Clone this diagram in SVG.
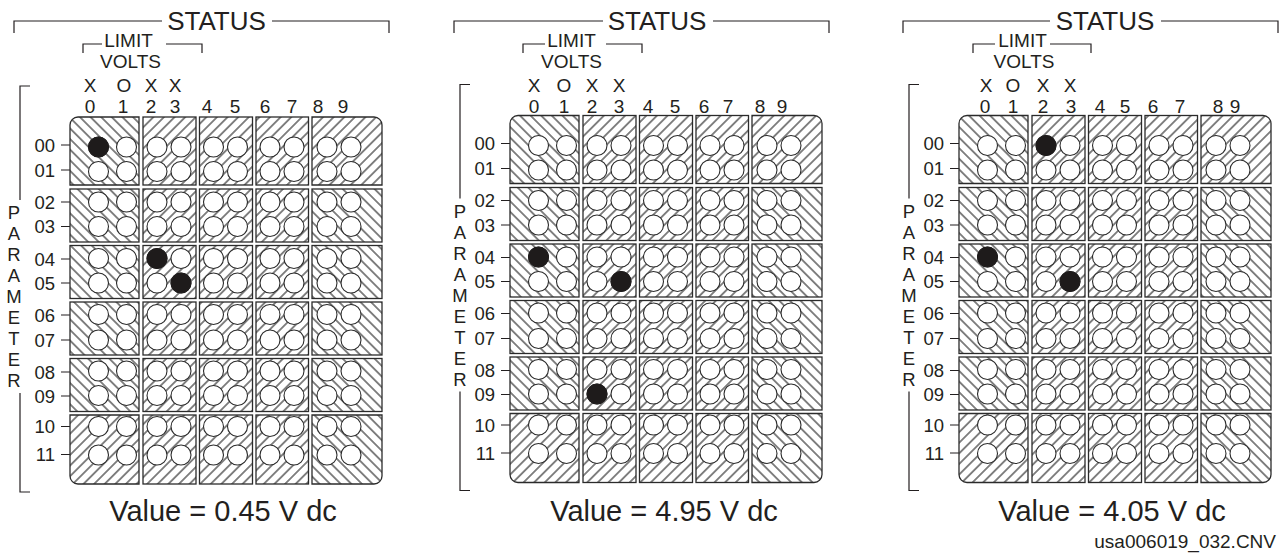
<svg xmlns="http://www.w3.org/2000/svg" xmlns:xlink="http://www.w3.org/1999/xlink" width="1280" height="554" viewBox="0 0 1280 554">
<style>
.t{font-family:"Liberation Sans",Arial,sans-serif;fill:#231f20}
.s18{font-size:18.5px}
.s19{font-size:19px}
.mid{text-anchor:middle}
.end{text-anchor:end}
.ln{fill:none;stroke:#231f20;stroke-width:1.2}
.cell{stroke:#2b2b2b;stroke-width:1.3}
.f{fill:url(#hf)}
.b{fill:url(#hb)}
.c{fill:#fff;stroke:#2b2b2b;stroke-width:1.1}
.on{fill:#1e1b1b;stroke:#1e1b1b;stroke-width:1}
</style>
<defs>
<pattern id="hf" patternUnits="userSpaceOnUse" width="7.5" height="7.5" patternTransform="rotate(45)"><line x1="3.75" y1="-1" x2="3.75" y2="8.5" stroke="#222" stroke-width="1.1"/></pattern>
<pattern id="hb" patternUnits="userSpaceOnUse" width="7.5" height="7.5" patternTransform="rotate(-45)"><line x1="3.75" y1="-1" x2="3.75" y2="8.5" stroke="#222" stroke-width="1.1"/></pattern>
<g id="grid">
<path class="cell b" d="M70,185V125A8,8 0 0 1 78,117H139V185Z"/>
<rect class="cell f" x="143" y="117" width="53" height="68"/>
<rect class="cell f" x="199.5" y="117" width="53" height="68"/>
<rect class="cell f" x="256" y="117" width="52.5" height="68"/>
<path class="cell f" d="M312,117H374A8,8 0 0 1 382,125V185H312Z"/>
<rect class="cell b" x="70" y="189" width="69" height="53"/>
<rect class="cell f" x="143" y="189" width="53" height="53"/>
<rect class="cell f" x="199.5" y="189" width="53" height="53"/>
<rect class="cell f" x="256" y="189" width="52.5" height="53"/>
<rect class="cell b" x="312" y="189" width="70" height="53"/>
<rect class="cell b" x="70" y="245.5" width="69" height="53"/>
<rect class="cell f" x="143" y="245.5" width="53" height="53"/>
<rect class="cell f" x="199.5" y="245.5" width="53" height="53"/>
<rect class="cell f" x="256" y="245.5" width="52.5" height="53"/>
<rect class="cell b" x="312" y="245.5" width="70" height="53"/>
<rect class="cell b" x="70" y="302" width="69" height="53"/>
<rect class="cell f" x="143" y="302" width="53" height="53"/>
<rect class="cell f" x="199.5" y="302" width="53" height="53"/>
<rect class="cell f" x="256" y="302" width="52.5" height="53"/>
<rect class="cell b" x="312" y="302" width="70" height="53"/>
<rect class="cell b" x="70" y="358.5" width="69" height="53"/>
<rect class="cell f" x="143" y="358.5" width="53" height="53"/>
<rect class="cell f" x="199.5" y="358.5" width="53" height="53"/>
<rect class="cell f" x="256" y="358.5" width="52.5" height="53"/>
<rect class="cell b" x="312" y="358.5" width="70" height="53"/>
<path class="cell f" d="M70,415H139V484H78A8,8 0 0 1 70,476Z"/>
<rect class="cell f" x="143" y="415" width="53" height="69"/>
<rect class="cell f" x="199.5" y="415" width="53" height="69"/>
<rect class="cell f" x="256" y="415" width="52.5" height="69"/>
<path class="cell b" d="M312,415H382V476A8,8 0 0 1 374,484H312Z"/>
<g id="circles">
<g id="crow">
<circle class="c" cx="98.5" cy="147" r="10"/><circle class="c" cx="126.5" cy="147" r="10"/><circle class="c" cx="157" cy="147" r="10"/><circle class="c" cx="181" cy="147" r="10"/><circle class="c" cx="213.5" cy="147" r="10"/><circle class="c" cx="237.5" cy="147" r="10"/><circle class="c" cx="270" cy="147" r="10"/><circle class="c" cx="294" cy="147" r="10"/><circle class="c" cx="327" cy="147" r="10"/><circle class="c" cx="351" cy="147" r="10"/>
</g>
<use href="#crow" y="24.5"/>
<use href="#crow" y="55"/>
<use href="#crow" y="79.5"/>
<use href="#crow" y="111.5"/>
<use href="#crow" y="136"/>
<use href="#crow" y="167.5"/>
<use href="#crow" y="193"/>
<use href="#crow" y="224"/>
<use href="#crow" y="248.5"/>
<use href="#crow" y="279.5"/>
<use href="#crow" y="308"/>
</g>
</g>
</defs>

<g id="panel-1">
<g id="p1-status">
<path class="ln" d="M14,33V21H162M272,21H389V33"/>
<text class="t mid" x="216.5" y="29.5" font-size="26">STATUS</text>
<path class="ln" d="M83,53V44H102M166,44H202V53"/>
<text class="t mid s19" x="128.5" y="47">LIMIT</text>
<text class="t mid s19" x="130.5" y="68">VOLTS</text>
<text class="t mid s19" y="92"><tspan x="90">X</tspan><tspan x="124">O</tspan><tspan x="151">X</tspan><tspan x="175">X</tspan></text>
<text class="t mid s19" y="113"><tspan x="90">0</tspan><tspan x="123">1</tspan><tspan x="151">2</tspan><tspan x="175">3</tspan><tspan x="207">4</tspan><tspan x="235">5</tspan><tspan x="265">6</tspan><tspan x="292">7</tspan><tspan x="318">8</tspan><tspan x="343">9</tspan></text>
</g>
<g id="p1-parameter">
<path class="ln" d="M30,86H20V200M20,393V492H30"/>
<text class="t mid s18"><tspan x="14" y="219">P</tspan><tspan x="14" y="240">A</tspan><tspan x="14" y="261">R</tspan><tspan x="14" y="282">A</tspan><tspan x="14" y="303">M</tspan><tspan x="14" y="324">E</tspan><tspan x="14" y="345">T</tspan><tspan x="14" y="366">E</tspan><tspan x="14" y="387">R</tspan></text>
</g>
<g id="p1-rows">
<path class="ln" d="M61,145H70M61,170H70M61,202H70M61,226.5H70M61,259H70M61,283H70M61,315H70M61,340H70M61,372H70M61,396H70M61,426.5H70M61,454.5H70"/>
<text class="t end s18"><tspan x="55" y="151.5">00</tspan><tspan x="55" y="176.5">01</tspan><tspan x="55" y="208.5">02</tspan><tspan x="55" y="233">03</tspan><tspan x="55" y="265.5">04</tspan><tspan x="55" y="289.5">05</tspan><tspan x="55" y="321.5">06</tspan><tspan x="55" y="346.5">07</tspan><tspan x="55" y="378.5">08</tspan><tspan x="55" y="402.5">09</tspan><tspan x="55" y="433">10</tspan><tspan x="55" y="461">11</tspan></text>
</g>
<g id="p1-grid">
<use href="#grid"/>
<circle class="on" cx="98.5" cy="147" r="10"/>
<circle class="on" cx="157" cy="258.5" r="10"/>
<circle class="on" cx="181" cy="283" r="10"/>
</g>
<text id="p1-value" class="t mid" x="223" y="521" font-size="29">Value = 0.45 V dc</text>
</g>

<g id="panel-2" transform="translate(440,0)">
<g id="p2-status">
<path class="ln" d="M14,33V21H163M273,21H389V33"/>
<text class="t mid" x="217" y="29.5" font-size="26">STATUS</text>
<path class="ln" d="M83,53V44H105M166,44H202V53"/>
<text class="t mid s19" x="131.5" y="47">LIMIT</text>
<text class="t mid s19" x="131.5" y="68">VOLTS</text>
<text class="t mid s19" y="92"><tspan x="94">X</tspan><tspan x="124">O</tspan><tspan x="152">X</tspan><tspan x="179">X</tspan></text>
<text class="t mid s19" y="113"><tspan x="94">0</tspan><tspan x="124">1</tspan><tspan x="152">2</tspan><tspan x="179">3</tspan><tspan x="208">4</tspan><tspan x="235">5</tspan><tspan x="264">6</tspan><tspan x="288">7</tspan><tspan x="320">8</tspan><tspan x="342">9</tspan></text>
</g>
<g transform="translate(0,-1.5)">
<g id="p2-parameter">
<path class="ln" d="M30,86H20V200M20,393V492H30"/>
<text class="t mid s18"><tspan x="20" y="219">P</tspan><tspan x="20" y="240">A</tspan><tspan x="20" y="261">R</tspan><tspan x="20" y="282">A</tspan><tspan x="20" y="303">M</tspan><tspan x="20" y="324">E</tspan><tspan x="20" y="345">T</tspan><tspan x="20" y="366">E</tspan><tspan x="20" y="387">R</tspan></text>
</g>
<g id="p2-rows">
<path class="ln" d="M61,145H70M61,170H70M61,202H70M61,226.5H70M61,259H70M61,283H70M61,315H70M61,340H70M61,372H70M61,396H70M61,426.5H70M61,454.5H70"/>
<text class="t end s18"><tspan x="55" y="151.5">00</tspan><tspan x="55" y="176.5">01</tspan><tspan x="55" y="208.5">02</tspan><tspan x="55" y="233">03</tspan><tspan x="55" y="265.5">04</tspan><tspan x="55" y="289.5">05</tspan><tspan x="55" y="321.5">06</tspan><tspan x="55" y="346.5">07</tspan><tspan x="55" y="378.5">08</tspan><tspan x="55" y="402.5">09</tspan><tspan x="55" y="433">10</tspan><tspan x="55" y="461">11</tspan></text>
</g>
<g id="p2-grid">
<use href="#grid"/>
<circle class="on" cx="98.5" cy="258.5" r="10"/>
<circle class="on" cx="181" cy="283" r="10"/>
<circle class="on" cx="157" cy="395.5" r="10"/>
</g>
</g>
<text id="p2-value" class="t mid" x="224" y="521" font-size="29">Value = 4.95 V dc</text>
</g>

<g id="panel-3" transform="translate(889,0)">
<g id="p3-status">
<path class="ln" d="M14,33V21H161M272,21H389V33"/>
<text class="t mid" x="216" y="29.5" font-size="26">STATUS</text>
<path class="ln" d="M84,53V44H106M161,44H202V53"/>
<text class="t mid s19" x="133.5" y="47">LIMIT</text>
<text class="t mid s19" x="135" y="68">VOLTS</text>
<text class="t mid s19" y="92"><tspan x="97">X</tspan><tspan x="124">O</tspan><tspan x="154">X</tspan><tspan x="181">X</tspan></text>
<text class="t mid s19" y="113"><tspan x="96">0</tspan><tspan x="124">1</tspan><tspan x="154">2</tspan><tspan x="182">3</tspan><tspan x="211">4</tspan><tspan x="236">5</tspan><tspan x="264">6</tspan><tspan x="291">7</tspan><tspan x="329">8</tspan><tspan x="346">9</tspan></text>
</g>
<g transform="translate(0,-1.5)">
<g id="p3-parameter">
<path class="ln" d="M30,86H20V200M20,393V492H30"/>
<text class="t mid s18"><tspan x="20" y="219">P</tspan><tspan x="20" y="240">A</tspan><tspan x="20" y="261">R</tspan><tspan x="20" y="282">A</tspan><tspan x="20" y="303">M</tspan><tspan x="20" y="324">E</tspan><tspan x="20" y="345">T</tspan><tspan x="20" y="366">E</tspan><tspan x="20" y="387">R</tspan></text>
</g>
<g id="p3-rows">
<path class="ln" d="M61,145H70M61,170H70M61,202H70M61,226.5H70M61,259H70M61,283H70M61,315H70M61,340H70M61,372H70M61,396H70M61,426.5H70M61,454.5H70"/>
<text class="t end s18"><tspan x="55" y="151.5">00</tspan><tspan x="55" y="176.5">01</tspan><tspan x="55" y="208.5">02</tspan><tspan x="55" y="233">03</tspan><tspan x="55" y="265.5">04</tspan><tspan x="55" y="289.5">05</tspan><tspan x="55" y="321.5">06</tspan><tspan x="55" y="346.5">07</tspan><tspan x="55" y="378.5">08</tspan><tspan x="55" y="402.5">09</tspan><tspan x="55" y="433">10</tspan><tspan x="55" y="461">11</tspan></text>
</g>
<g id="p3-grid">
<use href="#grid"/>
<circle class="on" cx="157" cy="147" r="10"/>
<circle class="on" cx="98.5" cy="258.5" r="10"/>
<circle class="on" cx="181" cy="283" r="10"/>
</g>
</g>
<text id="p3-value" class="t mid" x="223" y="521" font-size="29">Value = 4.05 V dc</text>
</g>

<text id="file-ref" class="t end s19" x="1276" y="548">usa006019_032.CNV</text>
</svg>
